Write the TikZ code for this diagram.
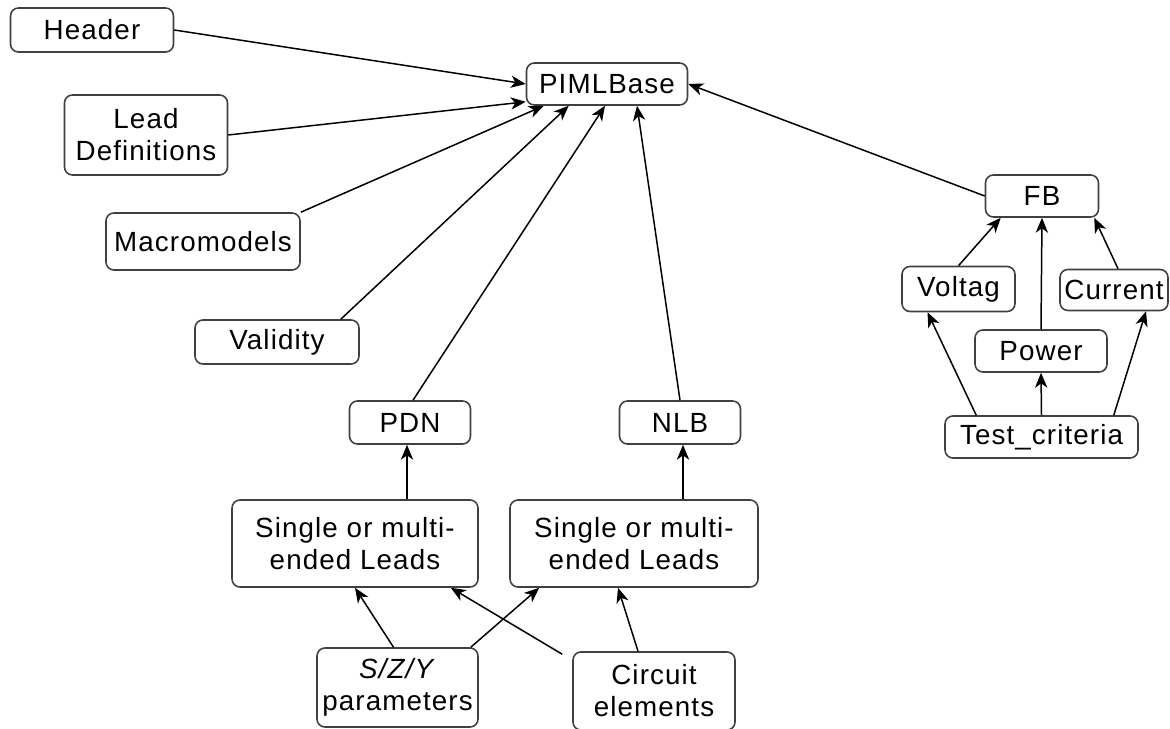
\documentclass[tikz,border=0pt]{standalone}
\usepackage{fontspec}
\setmainfont[LetterSpace=4]{Liberation Sans}
\usetikzlibrary{arrows.meta}

\begin{document}
\begin{tikzpicture}[
                x=0.02cm, y=-0.02cm,
                block/.style={draw=black!75, line width=0.9pt, fill=white, rounded corners=4.5pt,
                              align=center, inner sep=0pt,
                              font=\fontsize{15.8}{18.2}\selectfont},
                arrow/.style={-{Stealth[length=8.5pt, width=7pt, inset=2.5pt]}, line width=0.85pt, black}
            ]
                \useasboundingbox (0,0) rectangle (1170,729);

                % top of the tree
                \node[block, minimum width=3.22cm, minimum height=0.84cm] (pb) at (607,84) {PIMLBase};

                % left side
                \node[block, minimum width=3.26cm, minimum height=0.88cm] (hdr) at (92,30) {Header};
                \node[block, minimum width=3.26cm, minimum height=1.6cm] (ld) at (146,135) {Lead\\Definitions};
                \node[block, minimum width=3.88cm, minimum height=1.14cm] (mm) at (203,241.5) {Macromodels};
                \node[block, minimum width=3.28cm, minimum height=0.88cm] (val) at (277,342) {Validity};

                % middle
                \node[block, minimum width=2.42cm, minimum height=0.86cm] (pdn) at (410,422.5) {PDN};
                \node[block, minimum width=2.42cm, minimum height=0.86cm] (nlb) at (680,422.5) {NLB};
                \node[block, minimum width=4.92cm, minimum height=1.74cm] (sl) at (355,543.5) {Single or multi-\\ended Leads};
                \node[block, minimum width=4.96cm, minimum height=1.74cm] (sr) at (634,543.5) {Single or multi-\\ended Leads};
                \node[block, minimum width=3.22cm, minimum height=1.58cm] (szy) at (397.5,687.5) {\textit{S/Z/Y}\\parameters};
                \node[block, minimum width=3.24cm, minimum height=1.56cm] (ce) at (654,691) {Circuit\\elements};

                % right side
                \node[block, minimum width=2.26cm, minimum height=0.84cm] (fb) at (1042,196) {FB};
                \node[block, minimum width=2.26cm, minimum height=0.9cm] (vt) at (958.5,289) {Voltag};
                \node[block, minimum width=2.16cm, minimum height=0.82cm] (cur) at (1114,290) {Current};
                \node[block, minimum width=2.64cm, minimum height=0.84cm] (pw) at (1041,351) {Power};
                \node[block, minimum width=3.86cm, minimum height=0.84cm] (tc) at (1041.5,437) {Test\_criteria};

                % into PIMLBase
                \draw[arrow] (hdr.east) -- (pb.west);
                \draw[arrow] (ld.east) -- ([yshift=0.08cm]pb.south west);
                \draw[arrow] (mm.north east) -- ([xshift=0.36cm]pb.south west);
                \draw[arrow] ([xshift=-0.38cm]val.north east) -- ([xshift=0.86cm]pb.south west);
                \draw[arrow] ([xshift=0.06cm]pdn.north) -- ([xshift=-0.04cm]pb.south);
                \draw[arrow] (nlb.north) -- ([xshift=0.6cm]pb.south);
                \draw[arrow] (fb.west) -- (pb.east);

                % leads
                \draw[arrow] ([xshift=-0.06cm]pdn.south |- sl.north) -- ([xshift=-0.06cm]pdn.south);
                \draw[arrow] ([xshift=0.06cm]nlb.south |- sr.north) -- ([xshift=0.06cm]nlb.south);
                \draw[arrow] ([xshift=-0.08cm]szy.north) -- (sl.south);
                \draw[arrow] ([xshift=-0.16cm]szy.north east) -- ([xshift=0.6cm]sr.south west);
                \draw[arrow] ([xshift=-0.2cm, yshift=-0.06cm]ce.north west) -- ([xshift=-0.56cm]sl.south east);
                \draw[arrow] ([xshift=-0.32cm]ce.north) -- ([xshift=-0.32cm]sr.south);

                % test criteria
                \draw[arrow] (vt.north) -- ([xshift=0.32cm]fb.south west);
                \draw[arrow] (pw.north) -- (fb.south);
                \draw[arrow] ([xshift=0.08cm]cur.north) -- ([xshift=-0.1cm]fb.south east);
                \draw[arrow] ([xshift=0.64cm]tc.north west) -- ([xshift=-0.62cm]vt.south);
                \draw[arrow] (tc.north) -- (pw.south);
                \draw[arrow] ([xshift=-0.5cm]tc.north east) -- ([xshift=0.64cm]cur.south);

            \end{tikzpicture}
\end{document}
